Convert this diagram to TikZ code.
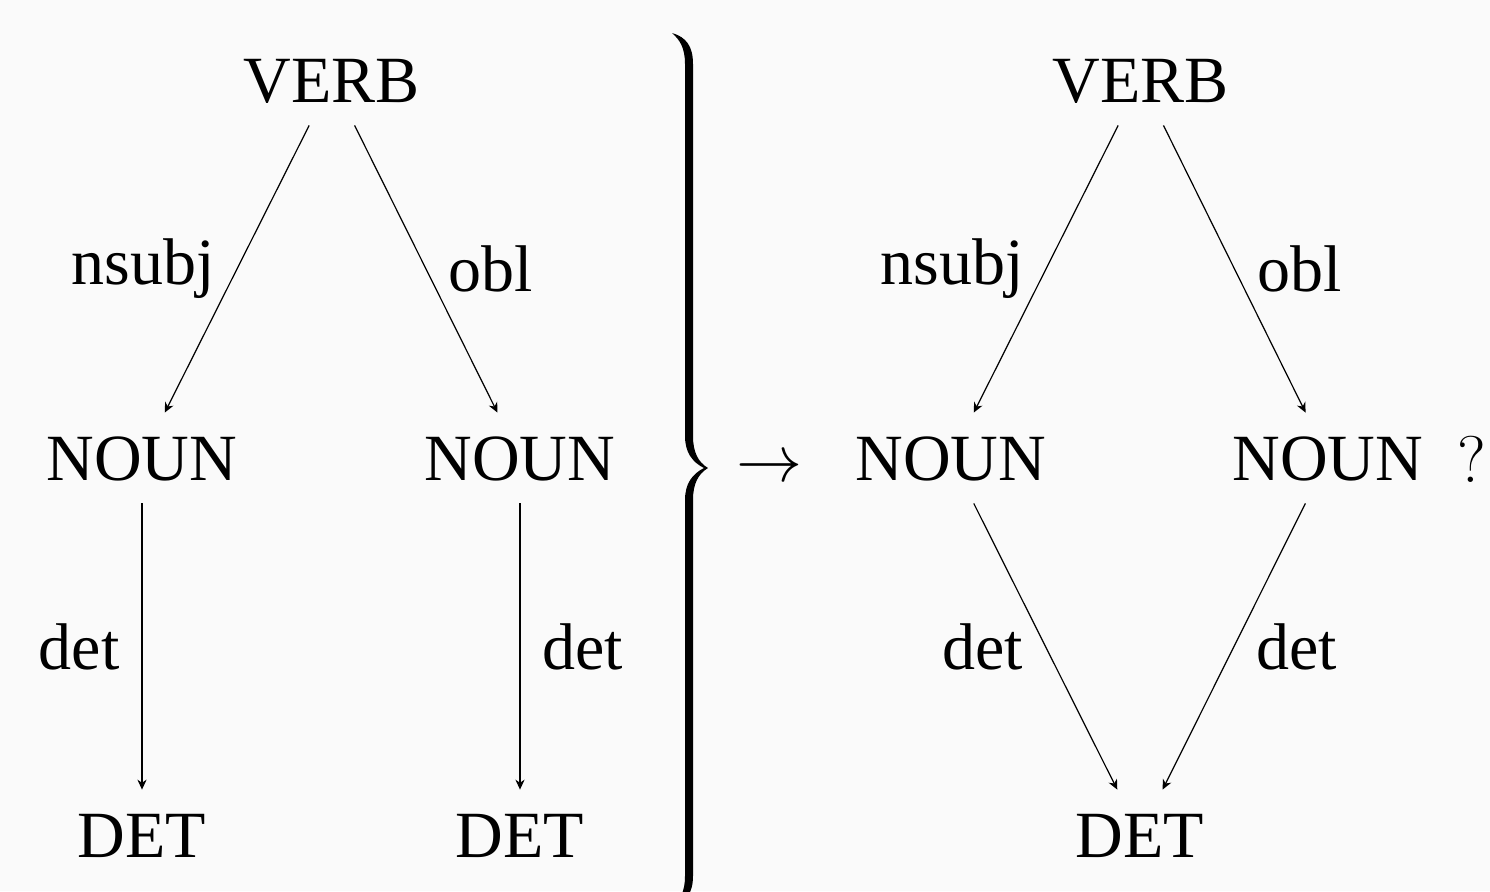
\RequirePackage{fix-cm}
\documentclass[tikz,border=0pt]{standalone}
\usepackage{fontspec}
\setmainfont{Liberation Serif}
\usetikzlibrary{arrows.meta}
\definecolor{bg}{RGB}{250,250,250}
\begin{document}
\begin{tikzpicture}[x=0.5pt,y=-0.5pt,
  font=\fontsize{33}{40}\selectfont,
  tag/.style={inner sep=0pt, text height=22pt, text depth=0pt, minimum height=45pt},
  dep/.style={draw, line width=0.6pt, -{Stealth[length=5pt,width=4.6pt,inset=1.6pt]}},
  lbl/.style={inner xsep=11pt, inner ysep=0pt}]
\fill[bg] (0,0) rectangle (1490,891);
\useasboundingbox (0,0) rectangle (1490,891);

% separate analysis
\node[tag] (vL)  at (332,80)  {VERB};
\node[tag] (nL1) at (142,458) {NOUN};
\node[tag] (nL2) at (520,458) {NOUN};
\node[tag] (dL1) at (142,835) {DET};
\node[tag] (dL2) at (520,835) {DET};

\draw[dep] (vL) -- node[lbl,left]{nsubj} (nL1);
\draw[dep] (vL) -- node[lbl,right]{obl} (nL2);
\draw[dep] (nL1) -- node[lbl,left]{det} (dL1);
\draw[dep] (nL2) -- node[lbl,right]{det} (dL2);

% brace
\fill[black] (672,33) .. controls (686,37) and (693,46) .. (693,64)
  -- (693,436) .. controls (693,452) and (698,462) .. (708,468)
  .. controls (698,474) and (693,484) .. (693,500)
  -- (693,876) .. controls (693,893) and (686,903) .. (672,906)
  .. controls (680,900) and (685,892) .. (685,876)
  -- (685,500) .. controls (685,484) and (692,474) .. (704,468)
  .. controls (692,462) and (685,452) .. (685,436)
  -- (685,64) .. controls (685,48) and (680,40) .. (672,33) -- cycle;

\node (to) at (769,469) {$\rightarrow$};

% merged analysis
\node[tag] (vR)  at (1141,80)  {VERB};
\node[tag] (nR1) at (951,458)  {NOUN};
\node[tag] (nR2) at (1328,458) {NOUN};
\node[tag] (dR)  at (1140,835) {DET};
\node (q) at (1472,460) {$?$};

\draw[dep] (vR) -- node[lbl,left]{nsubj} (nR1);
\draw[dep] (vR) -- node[lbl,right]{obl} (nR2);
\draw[dep] (nR1) -- node[lbl,left]{det} (dR);
\draw[dep] (nR2) -- node[lbl,right]{det} (dR);
\end{tikzpicture}
\end{document}
